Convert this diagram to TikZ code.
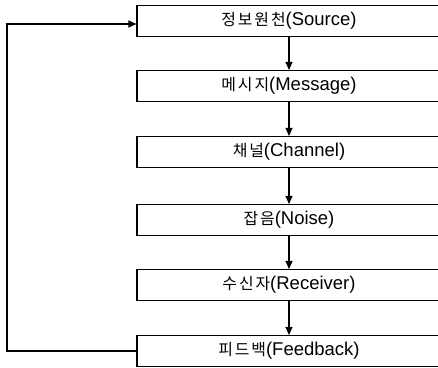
\documentclass[tikz,border=0pt]{standalone}
\usepackage{fontspec}
\setmainfont{Liberation Sans}
\newfontfamily\kr{Noto Sans CJK KR}[Scale=0.86,LetterSpace=12]
\usetikzlibrary{arrows.meta}
\begin{document}
\begin{tikzpicture}[x=1pt,y=-1pt,
  stagebox/.style={draw, line width=1.1pt, rectangle, minimum width=304pt, minimum height=31pt, inner sep=0pt, font=\fontsize{18.5}{21}\selectfont},
  arr/.style={line width=1.1pt, -{Triangle[length=8pt,width=7pt]}}]
\useasboundingbox (0,0) rectangle (438,367);
\clip (0,0) rectangle (438,367);
\node[stagebox] (source)   at (289,21)  {{\kr 정보원천}(Source)};
\node[stagebox] (message)  at (289,86)  {{\kr 메시지}(Message)};
\node[stagebox] (channel)  at (289,152) {{\kr 채널}(Channel)};
\node[stagebox] (noise)    at (289,220) {{\kr 잡음}(Noise)};
\node[stagebox] (receiver) at (289,285) {{\kr 수신자}(Receiver)};
\node[stagebox] (feedback) at (289,351) {{\kr 피드백}(Feedback)};
\coordinate (loopx) at (7,0);
\draw[arr] (source) -- (message);
\draw[arr] (message) -- (channel);
\draw[arr] (channel) -- (noise);
\draw[arr] (noise) -- (receiver);
\draw[arr] (receiver) -- (feedback);
\draw[arr] (feedback.west) -- (feedback.west -| loopx) |- ([yshift=-3pt]source.west);
\end{tikzpicture}
\end{document}
